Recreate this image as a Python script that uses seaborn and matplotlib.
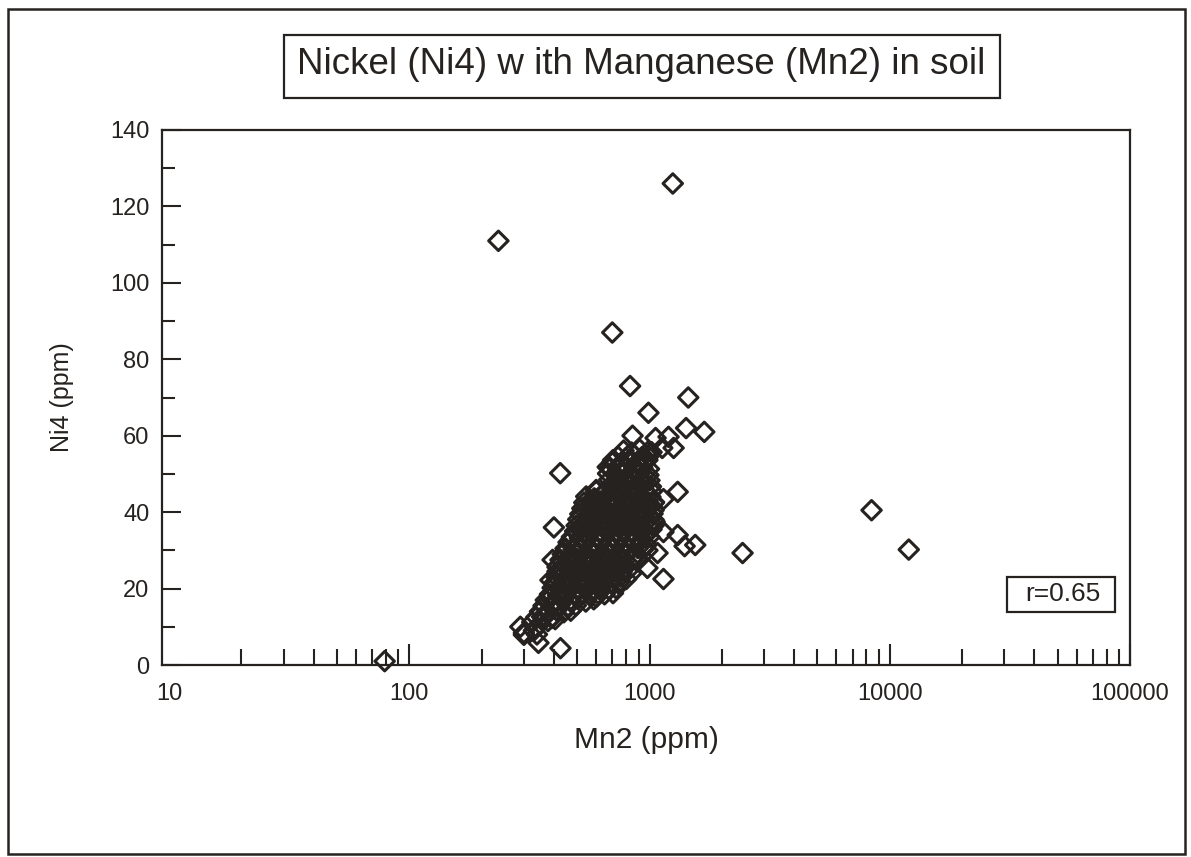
import matplotlib
matplotlib.use("Agg")
import matplotlib.pyplot as plt
from matplotlib.patches import Rectangle
from matplotlib.ticker import FixedLocator, FixedFormatter, LogLocator, NullFormatter, MultipleLocator
import seaborn as sns
import pandas as pd

# ---- data ----
cluster_mn = [
    300, 330, 340,
    325, 350, 378, 405,
    350, 380, 410, 440, 470,
    370, 400, 432, 466, 503, 543, 586,
    395, 426, 460, 497, 537, 580, 626, 676, 725,
    410, 443, 478, 516, 557, 602, 650, 702, 758, 800,
    418, 452, 488, 527, 569, 615, 664, 717, 774, 820,
    435, 470, 507, 548, 592, 639, 690, 745, 805, 870,
    460, 497, 537, 580, 626, 676, 730, 788, 851, 919, 970,
    490, 529, 571, 617, 666, 719, 777, 839, 906, 978, 1020,
    505, 545, 589, 636, 687, 742, 801, 865, 934, 1009, 1050,
    525, 567, 612, 661, 714, 771, 833, 900, 972, 1040,
    545, 589, 636, 687, 742, 801, 865, 934, 1009,
    690, 745, 805, 869, 939, 1014,
    672, 726, 784, 847, 915, 990,
    700, 756, 817, 882, 952,
    780, 842, 910, 985,
]
cluster_ni = [
    8.4, 9.0, 8.0,
    11.2, 10.8, 11.5, 12.0,
    14.0, 13.6, 14.4, 13.8, 14.2,
    17.0, 16.5, 17.4, 16.8, 17.3, 16.6, 17.2,
    20.2, 19.6, 20.5, 19.8, 20.3, 19.7, 20.4, 19.9, 20.1,
    23.0, 22.6, 23.4, 22.8, 23.3, 22.7, 23.2, 22.9, 23.1, 22.5,
    26.1, 25.6, 26.4, 25.8, 26.3, 25.7, 26.2, 25.9, 26.0, 26.5,
    29.0, 28.5, 29.4, 28.8, 29.3, 28.7, 29.2, 28.9, 29.1, 28.6,
    32.1, 31.6, 32.4, 31.8, 32.3, 31.7, 32.2, 31.9, 32.0, 32.5, 31.5,
    35.0, 34.6, 35.4, 34.8, 35.3, 34.7, 35.2, 34.9, 35.1, 34.5, 35.5,
    38.1, 37.6, 38.4, 37.8, 38.3, 37.7, 38.2, 37.9, 38.0, 38.5, 37.5,
    41.0, 40.6, 41.4, 40.8, 41.3, 40.7, 41.2, 40.9, 41.1, 40.5,
    44.1, 43.6, 44.4, 43.8, 44.3, 43.7, 44.2, 43.9, 44.0,
    47.0, 46.6, 47.4, 46.8, 47.3, 46.7,
    50.1, 49.6, 50.4, 49.8, 50.3, 49.7,
    53.0, 52.6, 53.4, 52.8, 53.3,
    56.1, 55.6, 56.4, 55.8,
]
inner_mn = [
    338, 365, 392,
    362, 392, 424, 458, 494,
    385, 416, 449, 485, 524, 566, 611, 650,
    402, 434, 469, 506, 547, 591, 638, 689, 740,
    414, 447, 483, 522, 563, 608, 657, 709, 766, 810,
    426, 460, 497, 537, 580, 627, 677, 731, 790, 850,
    447, 483, 522, 564, 609, 657, 710, 767, 828, 894, 950,
    475, 513, 554, 598, 646, 698, 754, 814, 879, 949, 1000,
    497, 537, 580, 626, 676, 730, 788, 851, 919, 992, 1040,
    515, 556, 600, 648, 700, 756, 817, 882, 953, 1030,
    535, 578, 624, 674, 728, 786, 849, 917, 990, 1045,
    600, 648, 700, 756, 817, 882, 953, 1020,
    680, 735, 794, 858, 927, 1000,
    686, 741, 800, 864, 933, 995,
    740, 799, 863, 932, 990,
]
inner_ni = [
    12.5, 12.8, 12.3,
    15.5, 15.2, 15.8, 15.4, 15.6,
    18.5, 18.2, 18.8, 18.4, 18.6, 18.3, 18.7, 18.5,
    21.5, 21.2, 21.8, 21.4, 21.6, 21.3, 21.7, 21.5, 21.4,
    24.5, 24.2, 24.8, 24.4, 24.6, 24.3, 24.7, 24.5, 24.4, 24.6,
    27.5, 27.2, 27.8, 27.4, 27.6, 27.3, 27.7, 27.5, 27.4, 27.6,
    30.5, 30.2, 30.8, 30.4, 30.6, 30.3, 30.7, 30.5, 30.4, 30.6, 30.5,
    33.5, 33.2, 33.8, 33.4, 33.6, 33.3, 33.7, 33.5, 33.4, 33.6, 33.5,
    36.5, 36.2, 36.8, 36.4, 36.6, 36.3, 36.7, 36.5, 36.4, 36.6, 36.5,
    39.5, 39.2, 39.8, 39.4, 39.6, 39.3, 39.7, 39.5, 39.4, 39.6,
    42.5, 42.2, 42.8, 42.4, 42.6, 42.3, 42.7, 42.5, 42.4, 42.6,
    45.5, 45.2, 45.8, 45.4, 45.6, 45.3, 45.7, 45.5,
    48.5, 48.2, 48.8, 48.4, 48.6, 48.3,
    51.5, 51.2, 51.8, 51.4, 51.6, 51.3,
    54.5, 54.2, 54.8, 54.4, 54.6,
]
edge_mn = [290, 300, 345, 426, 386, 357, 425, 400, 470, 500, 570, 600, 670, 705, 414, 387, 395,
           850, 1060, 1200, 1130, 1260, 980, 1020,
           1040, 1143, 1310, 1040, 1143, 1310, 1400, 1550, 980, 1080, 980, 1143, 900, 840, 705, 600]
edge_ni = [10.0, 7.9, 5.8, 4.4, 17.5, 12.6, 50.2, 36.0, 32.7, 34.5, 43.0, 45.8, 51.8, 53.6, 25.6, 22.2, 27.5,
           60.0, 59.4, 59.7, 56.8, 56.8, 53.6, 55.7,
           42.4, 43.4, 45.3, 38.0, 34.8, 34.0, 31.1, 31.4, 30.0, 29.3, 25.4, 22.5, 27.5, 24.0, 18.8, 17.8]
outlier_mn = [79, 235, 1250, 700, 830, 1450, 990, 1420, 1690, 2440, 8400, 12000]
outlier_ni = [1.0, 111, 126, 87, 73, 70, 66, 62, 61, 29.3, 40.5, 30.2]

x_ticks = [10, 100, 1000, 10000, 100000]
x_tick_labels = ["10", "100", "1000", "10000", "100000"]
y_ticks = [0, 20, 40, 60, 80, 100, 120, 140]

title_text = "Nickel (Ni4) w ith Manganese (Mn2) in soil"
x_label = "Mn2 (ppm)"
y_label = "Ni4 (ppm)"
r_text = "r=0.65"

df = pd.DataFrame({
    "Mn2": cluster_mn + inner_mn + edge_mn + outlier_mn,
    "Ni4": cluster_ni + inner_ni + edge_ni + outlier_ni,
})

# ---- style ----
sns.set_theme(style="white")
plt.rcParams["font.family"] = ["Liberation Sans", "DejaVu Sans"]
ink = "#262220"

W, H = 1191, 857
fig = plt.figure(figsize=(W / 100, H / 100), dpi=100)
ax = fig.add_axes([162 / W, 1 - 665 / H, (1130 - 162) / W, (665 - 130) / H])

sns.scatterplot(data=df, x="Mn2", y="Ni4", ax=ax, marker="D", s=98,
                facecolor="none", edgecolor=ink, linewidth=2.2, legend=False, zorder=3,
                clip_on=False)

ax.set_xscale("log")
ax.set_xlim(9.35, 100000)
ax.set_ylim(0, 140)

ax.xaxis.set_major_locator(FixedLocator(x_ticks))
ax.xaxis.set_major_formatter(FixedFormatter(x_tick_labels))
ax.xaxis.set_minor_locator(LogLocator(base=10, subs=range(2, 10), numticks=20))
ax.xaxis.set_minor_formatter(NullFormatter())
ax.yaxis.set_major_locator(FixedLocator(y_ticks))
ax.yaxis.set_minor_locator(MultipleLocator(10))

ax.tick_params(axis="both", which="both", direction="in", color=ink, width=1.5,
               labelcolor=ink, labelsize=17, top=False, right=False,
               bottom=True, left=True)
ax.tick_params(axis="x", which="major", length=15, pad=13)
ax.tick_params(axis="x", which="minor", length=11.5)
ax.tick_params(axis="y", which="major", length=14, pad=9)
ax.tick_params(axis="y", which="minor", length=9.5)
ax.xaxis.get_major_ticks()[0].tick1line.set_visible(False)

for sp in ax.spines.values():
    sp.set_color(ink)
    sp.set_linewidth(1.6)

ax.set_xlabel(x_label, fontsize=21.5, color=ink, labelpad=15)
ax.set_ylabel(y_label, fontsize=18, color=ink, labelpad=26)

# r box
ax.add_patch(Rectangle(((1007 - 162) / 968, (665 - 612) / 535), 108 / 968, 35 / 535,
                       transform=ax.transAxes, facecolor="white", edgecolor=ink,
                       linewidth=1.6, zorder=4))
ax.text((1063 - 162) / 968, (665 - 594) / 535, r_text, transform=ax.transAxes,
        ha="center", va="center", fontsize=19, color=ink, zorder=5)

# title box
fig.patches.append(Rectangle((284 / W, 1 - 98 / H), (1000 - 284) / W, 63 / H,
                             transform=fig.transFigure, fill=False, edgecolor=ink,
                             linewidth=1.6, zorder=5))
fig.text(641 / W, 1 - 65 / H, title_text, ha="center", va="center",
         fontsize=26.5, color=ink)

# outer frame
fig.patches.append(Rectangle((8 / W, 3 / H), (1185 - 8) / W, 845 / H,
                             transform=fig.transFigure, fill=False, edgecolor=ink,
                             linewidth=1.8, zorder=5))

fig.savefig("out.png", dpi=100, facecolor="white")
